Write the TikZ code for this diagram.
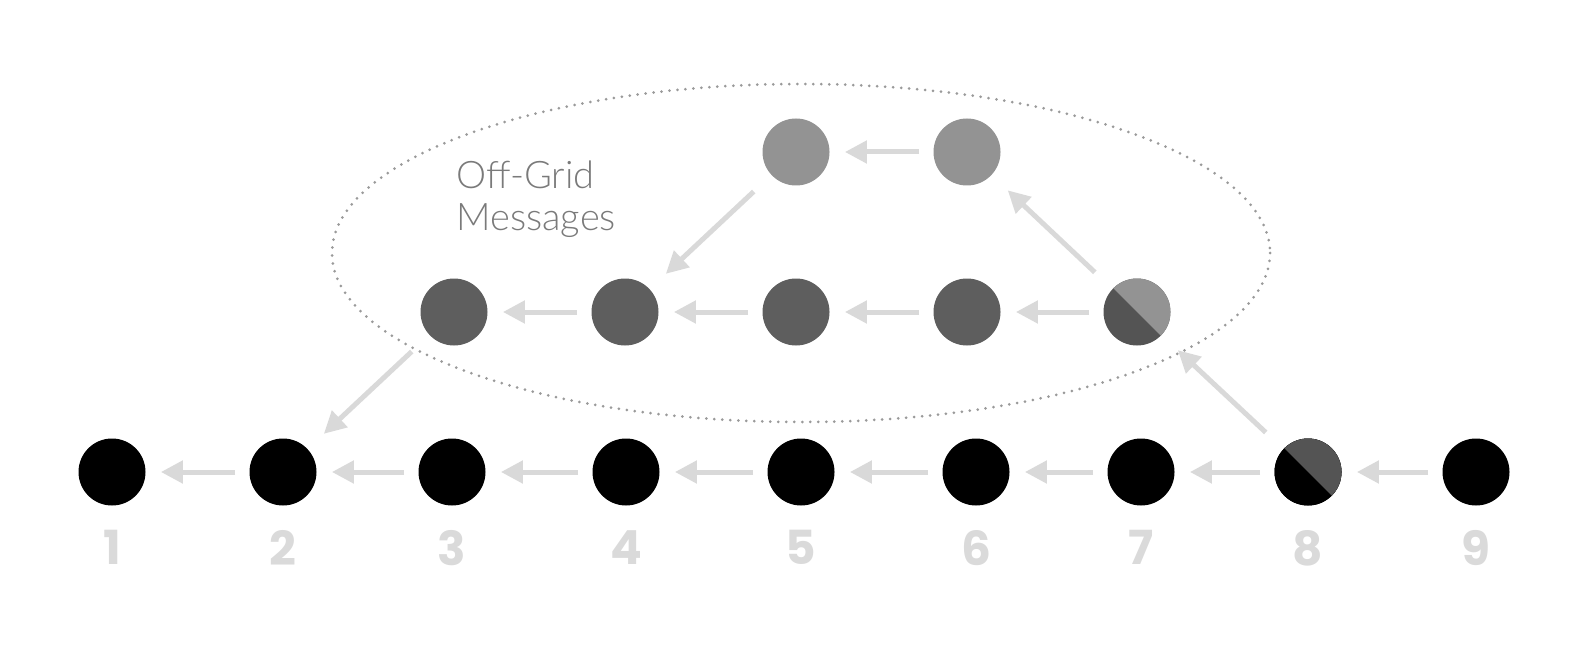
\documentclass[tikz,border=0pt]{standalone}
\usepackage{fontspec}
\setmainfont{TeX Gyre Heros}
\newfontfamily\numfont{Poppins}
\newfontfamily\thinfont{Lato Light}
\usepackage{xcolor}
\usetikzlibrary{arrows.meta,positioning,calc}

\definecolor{topgray}{HTML}{939393}
\definecolor{midgray}{HTML}{5E5E5E}
\definecolor{splitgray}{HTML}{545454}
\definecolor{arrowgray}{HTML}{D9D9D9}
\definecolor{numgray}{HTML}{DADADA}
\definecolor{ringgray}{HTML}{9A9A9A}
\definecolor{taggray}{HTML}{7A7A7A}

\tikzset{
  dot/.style={circle,minimum size=33.5pt,inner sep=0pt},
  flow/.style={draw=arrowgray,line width=2.5pt,-{Triangle[length=11pt,width=11pt]},shorten <=7pt,shorten >=7.5pt},
  cross/.style={flow,shorten <=12pt,shorten >=11pt},
  num/.style={font=\numfont\bfseries\fontsize{23.5}{24}\selectfont,text=numgray,inner sep=0pt}
}

\begin{document}
\begin{tikzpicture}[x=0.5pt,y=-0.5pt]
\useasboundingbox (0,0) rectangle (1594,652);

% off-grid region
\draw[ringgray,line width=1.5pt,line cap=round,dash pattern=on 0pt off 4pt] (801,253) ellipse [x radius=469, y radius=169];
\node[anchor=north west,align=left,text=taggray,inner sep=0pt,font=\thinfont\fontsize{19}{21}\selectfont] (tag) at (456,160) {Off-Grid\\Messages};

% grid chain
\foreach \i/\x in {1/112,2/283,3/452,4/626,5/801,6/976,7/1141,8/1308,9/1476}
  \node[dot,fill=black] (b\i) at (\x,472) {};
\node[dot,fill=black,path picture={\fill[splitgray] (path picture bounding box.north west) -- (path picture bounding box.north east) -- (path picture bounding box.south east) -- cycle;}] (b8) at (1308,472) {};

% off-grid chain
\foreach \i/\x in {1/454,2/625,3/796,4/967}
  \node[dot,fill=midgray] (m\i) at (\x,312) {};
\node[dot,fill=splitgray,path picture={\fill[topgray] (path picture bounding box.north west) -- (path picture bounding box.north east) -- (path picture bounding box.south east) -- cycle;}] (m5) at (1137,312) {};
\node[dot,fill=topgray] (t1) at (796,152) {};
\node[dot,fill=topgray] (t2) at (967,152) {};

% labels
\foreach \i in {1,...,9}
  \node[num,below=12pt of b\i] (l\i) {\i};

% connectors
\foreach \i [evaluate=\i as \j using int(\i+1)] in {1,...,8}
  \draw[flow] (b\j) -- (b\i);
\foreach \i [evaluate=\i as \j using int(\i+1)] in {1,...,4}
  \draw[flow] (m\j) -- (m\i);
\draw[flow] (t2) -- (t1);
\draw[cross] (b8) -- (m5);
\draw[cross] (m5) -- (t2);
\draw[cross] (t1) -- (m2);
\draw[cross] (m1) -- (b2);
\end{tikzpicture}
\end{document}
